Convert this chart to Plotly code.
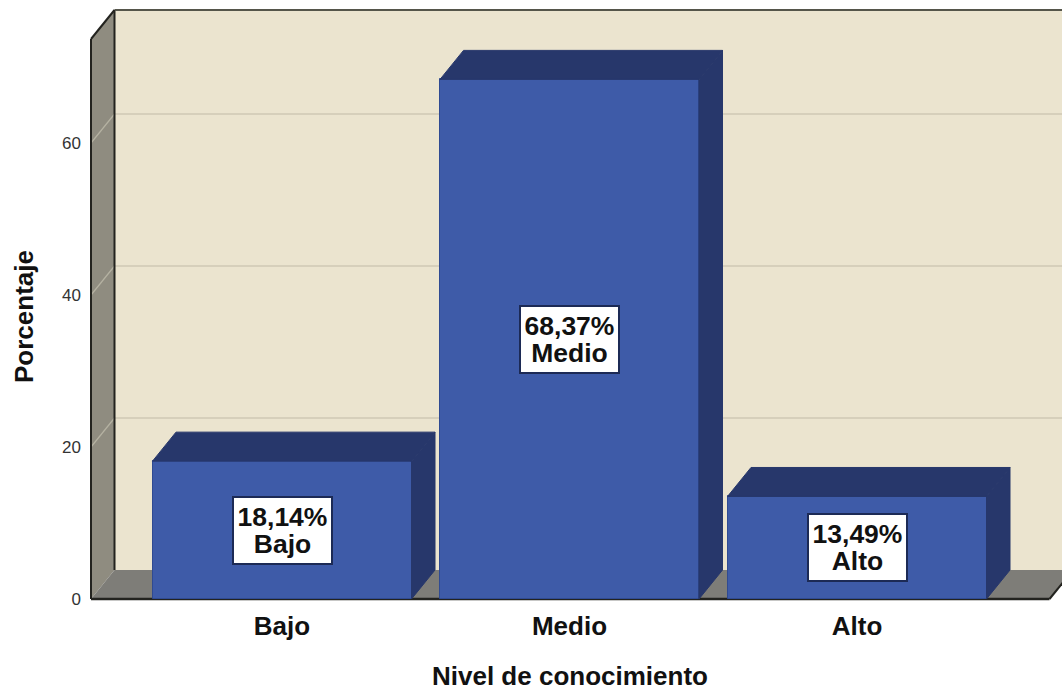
import plotly.graph_objects as go

CATEGORIES = ["Bajo", "Medio", "Alto"]
PERCENTAGES = [18.14, 68.37, 13.49]
PERCENT_LABELS = ["18,14%", "68,37%", "13,49%"]
Y_TICKS = [0, 20, 40, 60]
X_TITLE = "Nivel de conocimiento"
Y_TITLE = "Porcentaje"

W, H = 1062, 691
PX_PER_UNIT_Y = 7.6
PX_PER_CAT = 287.5
X0_PX = 282.0          # pixel centre of first category
Y0_PX = 599.0          # pixel of value 0
L_PX, R_PX, T_PX, B_PX = 88, 1062, 7, 602


def ux(px):
    return (px - X0_PX) / PX_PER_CAT


def uy(px):
    return (Y0_PX - px) / PX_PER_UNIT_Y


DX = 23.5 / PX_PER_CAT
DY = 29.0 / PX_PER_UNIT_Y
BAR_W = 259.0 / PX_PER_CAT
FRONT_L, FRONT_R = ux(91), ux(1049.5)
YMAX = uy(10)

WALL, GRID = "#ebe4cf", "#cfc8b5"
SIDE, FLOOR = "#8f8c80", "#7e7d78"
BLUE, BLUE_DK = "#3e5ba8", "#27376b"
EDGE = "#23231f"

shapes = []


def poly(xs, ys, fill, line=None, lw=0):
    path = "M" + " L".join(f"{a},{b}" for a, b in zip(xs, ys)) + " Z"
    shapes.append(dict(type="path", path=path, xref="x", yref="y", layer="below",
                       fillcolor=fill, line=dict(color=line or fill, width=lw)))


def seg(x0, y0, x1, y1, color, lw):
    shapes.append(dict(type="line", x0=x0, y0=y0, x1=x1, y1=y1, xref="x", yref="y",
                       layer="below", line=dict(color=color, width=lw)))


# back wall, side wall, floor
poly([FRONT_L + DX, FRONT_R + DX, FRONT_R + DX, FRONT_L + DX], [DY, DY, YMAX, YMAX], WALL)
poly([FRONT_L, FRONT_L + DX, FRONT_L + DX, FRONT_L], [0, DY, YMAX, YMAX - DY], SIDE)
poly([FRONT_L, FRONT_R, FRONT_R + DX, FRONT_L + DX], [0, 0, DY, DY], FLOOR)

# gridlines on the walls
for t in Y_TICKS[1:]:
    seg(FRONT_L, t, FRONT_L + DX, t + DY, "#b5b2a2", 1.2)
    seg(FRONT_L + DX, t + DY, FRONT_R + DX, t + DY, GRID, 1.5)

# box edges
seg(FRONT_L + DX, DY, FRONT_L + DX, YMAX, EDGE, 2)
seg(FRONT_L + DX, YMAX, FRONT_R + DX, YMAX, "#55554a", 2)
seg(FRONT_L, 0, FRONT_L, YMAX - DY, EDGE, 2)
seg(FRONT_L, YMAX - DY, FRONT_L + DX, YMAX, EDGE, 2)
seg(FRONT_L, 0, FRONT_R, 0, EDGE, 2.5)
seg(FRONT_R, 0, FRONT_R + DX, DY, EDGE, 2)

fig = go.Figure()
xs = list(range(len(CATEGORIES)))

fig.add_trace(go.Bar(x=xs, y=PERCENTAGES, width=BAR_W, showlegend=False,
                     marker=dict(color=BLUE, line=dict(color="#2f4a92", width=1))))

for x, v in zip(xs, PERCENTAGES):
    l, r = x - BAR_W / 2, x + BAR_W / 2
    fig.add_trace(go.Scatter(x=[l, r, r + DX, l + DX, l], y=[v, v, v + DY, v + DY, v],
                             mode="lines", fill="toself", fillcolor=BLUE_DK,
                             line=dict(color=BLUE_DK, width=1), showlegend=False, hoverinfo="skip"))
    fig.add_trace(go.Scatter(x=[r, r + DX, r + DX, r, r], y=[0, DY, v + DY, v, 0],
                             mode="lines", fill="toself", fillcolor=BLUE_DK,
                             line=dict(color=BLUE_DK, width=1), showlegend=False, hoverinfo="skip"))

FONT = "Liberation Sans"
INK = "#111111"
annotations = []
for x, v, pct, cat in zip(xs, PERCENTAGES, PERCENT_LABELS, CATEGORIES):
    # base font size sets the 1.3em line pitch; the span sets the glyph size
    label = (f'<span style="font-size:26.5px"><b>{pct}</b></span><br>'
             f'<span style="font-size:26.5px"><b>{cat}</b></span>')
    annotations.append(dict(x=x, y=v / 2, xref="x", yref="y", text=label, showarrow=False,
                            width=97, height=65, bgcolor="white", bordercolor="#1c2a55",
                            borderwidth=2, borderpad=0, align="center", valign="middle",
                            font=dict(family=FONT, size=20.5, color=INK)))

annotations.append(dict(x=1, y=0, xref="x", yref="paper", yanchor="middle", yshift=-74, text=f"<b>{X_TITLE}</b>",
                        showarrow=False, font=dict(family=FONT, size=26, color=INK)))
annotations.append(dict(x=(24 - L_PX) / (R_PX - L_PX), xref="paper", xanchor="center", y=uy(317), yref="y",
                        yanchor="middle", text=f"<b>{Y_TITLE}</b>", textangle=-90, showarrow=False,
                        font=dict(family=FONT, size=26, color=INK)))

fig.update_layout(
    width=W, height=H, autosize=False,
    margin=dict(l=L_PX, r=W - R_PX, t=T_PX, b=H - B_PX, pad=0),
    paper_bgcolor="white", plot_bgcolor="white",
    shapes=shapes, annotations=annotations, showlegend=False, bargap=0,
    xaxis=dict(range=[ux(L_PX), ux(R_PX)], tickmode="array", tickvals=xs,
               ticktext=[f"<b>{c}</b>" for c in CATEGORIES],
               showgrid=False, zeroline=False, showline=False, ticks="outside", ticklen=1,
               tickcolor="rgba(0,0,0,0)", tickfont=dict(family=FONT, size=26, color=INK)),
    yaxis=dict(range=[uy(B_PX), uy(T_PX)], tickmode="array", tickvals=Y_TICKS,
               showgrid=False, zeroline=False, showline=False, ticks="",
               ticklabelstandoff=6, tickfont=dict(family=FONT, size=17, color="#333333")),
)

fig.write_html("out.html", config={"displayModeBar": False},
               post_script="document.body.style.margin='0';")
